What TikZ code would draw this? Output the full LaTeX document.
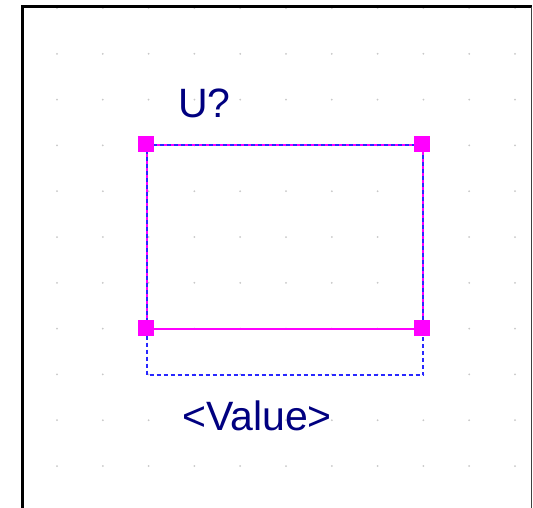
\documentclass[tikz,border=0pt]{standalone}
\usepackage{fontspec}
\setmainfont{Liberation Sans}
\definecolor{navytext}{RGB}{0,0,128}
\definecolor{pinmag}{RGB}{255,0,255}
\definecolor{dashblue}{RGB}{40,40,255}
\definecolor{dotgray}{RGB}{200,200,200}
\begin{document}
\begin{tikzpicture}[x=1pt,y=-1pt,
  pin/.style={fill=pinmag,draw=none,minimum size=16pt,inner sep=0pt,outer sep=0pt,rectangle},
  magline/.style={draw=pinmag,line width=2pt},
  blueline/.style={draw=dashblue,line width=2pt,dash pattern=on 4pt off 3pt},
  lbl/.style={text=navytext,font=\fontsize{41}{43}\selectfont,inner sep=0pt,anchor=base west}]
\useasboundingbox (0,0) rectangle (533,507);
\fill[white] (0,0) rectangle (533,507);
% grid dots
\foreach \i in {0,...,10}{
  \foreach \j in {0,...,10}{
    \fill[dotgray] ({57+45.8*\i},{8+45.8*\j}) circle (1pt);
  }
}
% frame
\draw[black,line width=2.2pt] (22.5,520) -- (22.5,6.5) -- (531.5,6.5);
\draw[black!75,line width=1.4pt] (531.5,6.5) -- (531.5,520);
% corners
\coordinate (tl) at (147,145);
\coordinate (tr) at (423,145);
\coordinate (bl) at (147,328.5);
\coordinate (br) at (423,328.5);
\coordinate (dbl) at (147,375);
\coordinate (dbr) at (423,375);
% body lines (magenta with blue dash overlay)
\draw[magline] (bl) -- (tl) -- (tr) -- (br);
\draw[blueline] (bl) -- (tl) -- (tr) -- (br);
\draw[magline] (bl) -- (br);
% dashed value box
\draw[blueline] (bl) -- (dbl) -- (dbr) -- (br);
% pins
\node[pin] (p1) at (145.5,144) {};
\node[pin] (p2) at (422,144) {};
\node[pin] (p3) at (145.5,328) {};
\node[pin] (p4) at (422,328) {};
% labels
\node[lbl] (ref) at (178,117) {U?};
\node[lbl] (val) at (182,430) {<Value>};
\end{tikzpicture}
\end{document}
